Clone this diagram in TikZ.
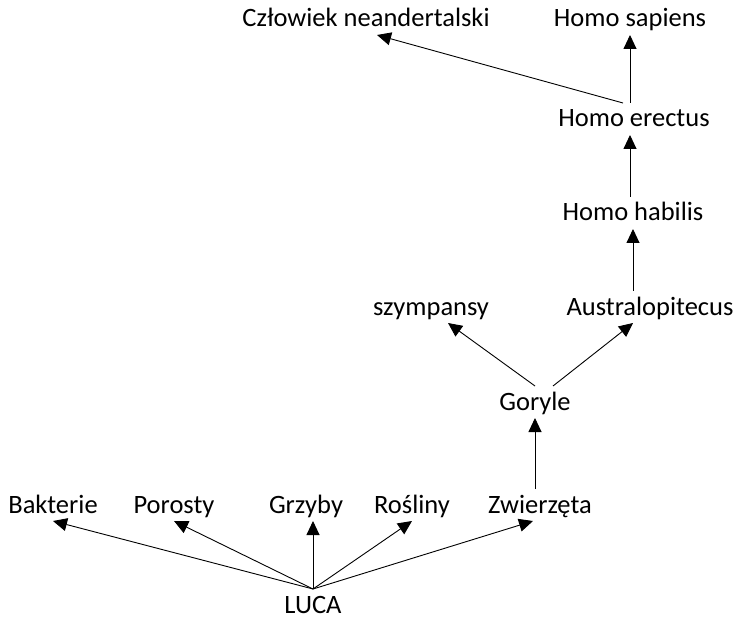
\documentclass[tikz,border=0pt]{standalone}
\usepackage{fontspec}
\setmainfont{Carlito}
\usepackage{xcolor}
\usepackage{tikz}
\usetikzlibrary{arrows.meta,calc}
\definecolor{TREEink}{RGB}{0,0,0}
\tikzstyle{taxon} = [anchor=base, inner xsep=2pt, inner ysep=8pt, outer sep=0pt,
                     text height=16pt, text depth=0pt, text=TREEink,
                     font=\fontsize{26.5}{30}\selectfont]
\tikzstyle{link}  = [->, draw=TREEink, line width=0.9pt]

\begin{document}
\begin{tikzpicture}[x=1pt, y=-1pt, >={Triangle[length=14pt,width=13pt]}]
  \useasboundingbox (0,0) rectangle (738,617);
  % top: Homo
  \node[taxon] (neand)  at (366,27)  {Człowiek neandertalski};
  \node[taxon] (sapi)   at (630,27)  {Homo sapiens};
  \node[taxon] (erec)   at (634,127) {Homo erectus};
  \node[taxon] (habi)   at (633,221) {Homo habilis};
  \node[taxon] (szymp)  at (431,315) {szympansy};
  \node[taxon] (austr)  at (650,315) {Australopitecus};
  \node[taxon] (gory)   at (535,410) {Goryle};
  % bottom row
  \node[taxon] (bakt)   at (53,513)  {Bakterie};
  \node[taxon] (poro)   at (174,513) {Porosty};
  \node[taxon] (grzy)   at (306,513) {Grzyby};
  \node[taxon] (rosl)   at (412,513) {Rośliny};
  \node[taxon] (zwie)   at (540,513) {Zwierzęta};
  \node[taxon] (luca)   at (313,613) {LUCA};

  \draw[link] (luca.north) -- (bakt.south);
  \draw[link] (luca.north) -- (poro.south);
  \draw[link] (luca.north) -- (luca.north |- grzy.south);
  \draw[link] (luca.north) -- (rosl.south);
  \draw[link] (luca.north) -- ([xshift=-7pt]zwie.south);
  \draw[link] (gory.south |- zwie.north) -- (gory.south);
  \draw[link] (gory.north) -- ([xshift=17pt]szymp.south);
  \draw[link] ([xshift=18pt]gory.north) -- ([xshift=-17pt]austr.south);
  \draw[link] (habi.south |- austr.north) -- (habi.south);
  \draw[link] ([xshift=-3pt]habi.north) -- ([xshift=-4pt]erec.south);
  \draw[link] ([xshift=-4pt]erec.north) -- (sapi.south);
  \draw[link] ([xshift=-11pt]erec.north) -- ([xshift=11pt]neand.south);
\end{tikzpicture}
\end{document}
